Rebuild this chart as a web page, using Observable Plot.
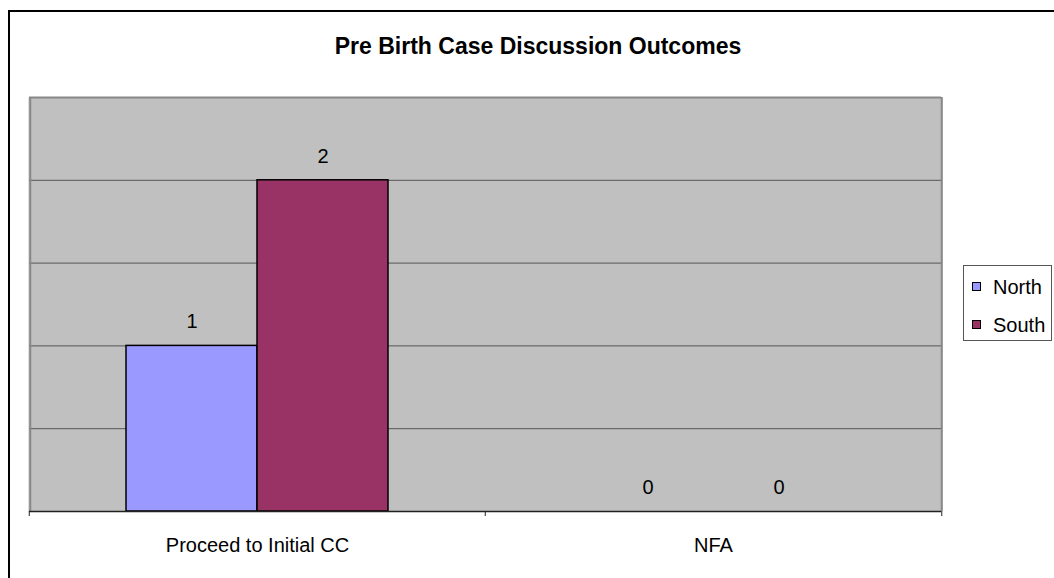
<!DOCTYPE html>
<html><head><meta charset="utf-8">
<script src="https://cdn.jsdelivr.net/npm/d3@7"></script>
<script src="https://cdn.jsdelivr.net/npm/@observablehq/plot@0.6"></script>
<style>
body{margin:0;background:#fff;font-family:"Liberation Sans",Arial,sans-serif;}
#wrap{position:relative;width:1054px;height:578px;overflow:hidden;background:#fff;}
#border{position:absolute;left:8px;top:10px;width:1100px;height:700px;border-left:2px solid #000;border-top:2px solid #000;box-sizing:border-box;}
#title{position:absolute;left:0;width:1076px;top:35px;line-height:23px;text-align:center;font-weight:bold;font-size:23px;color:#000;}
#chart{position:absolute;left:0;top:0;}
#legend{position:absolute;left:963px;top:265px;width:89px;height:76px;border:1px solid #555;box-sizing:border-box;background:#fff;font-size:20px;}
.item{position:absolute;left:0;height:24px;line-height:24px;}
.sw{position:absolute;left:8px;top:7px;width:9px;height:9px;border:1px solid #000;box-sizing:border-box;}
.lb{position:absolute;left:29px;top:0;white-space:nowrap;}
</style></head>
<body>
<div id="wrap">
  <div id="border"></div>
  <div id="chart"></div>
  <div id="title"></div>
  <div id="legend"></div>
</div>
<script>
const titleText = "Pre Birth Case Discussion Outcomes";
const categories = ["Proceed to Initial CC", "NFA"];
const series = ["North", "South"];
const northValues = [1, 0];
const southValues = [2, 0];
const seriesColors = ["#9999FF", "#993366"];
const gridValues = [0.5, 1, 1.5, 2];
const yMax = 2.5;

const data = categories.flatMap((c, i) => [
  {category: c, series: series[0], value: northValues[i]},
  {category: c, series: series[1], value: southValues[i]}
]);

const W = 1054, H = 578, mL = 28, mR = 113, mT = 97, mB = 67;
const bandW = (W - mL - mR) / categories.length;

const plot = Plot.plot({
  width: W, height: H,
  marginLeft: mL, marginRight: mR, marginTop: mT, marginBottom: mB,
  style: {fontFamily: "Liberation Sans, Arial, sans-serif", fontSize: "20px", background: "transparent", color: "#000"},
  fx: {domain: categories, padding: 0, label: null},
  x: {domain: series, paddingInner: 0, paddingOuter: 0.74, axis: null},
  y: {domain: [0, yMax], axis: null},
  color: {domain: series, range: seriesColors},
  marks: [
    Plot.frame({fill: "#C0C0C0", stroke: null, insetLeft: -1, insetRight: -1}),
    Plot.ruleY(gridValues, {stroke: "#555", strokeWidth: 1}),
    Plot.ruleY([yMax], {stroke: "#888", strokeWidth: 2}),
    Plot.ruleX([categories[0]], {x: null, fx: d => d, dx: -bandW / 2 + 1, stroke: "#888", strokeWidth: 2}),
    Plot.ruleX([categories[categories.length - 1]], {x: null, fx: d => d, dx: bandW / 2, stroke: "#888", strokeWidth: 2}),
    Plot.barY(data, {fx: "category", x: "series", y: "value", fill: "series", stroke: "#000", strokeWidth: 1.5}),
    Plot.ruleY([0], {stroke: "#222", strokeWidth: 1.5}),
    Plot.ruleX(categories, {x: null, fx: d => d, y1: d => 0, y2: d => 0, insetBottom: -5, dx: -bandW / 2, stroke: "#222", strokeWidth: 1}),
    Plot.ruleX([categories[categories.length - 1]], {x: null, fx: d => d, y1: d => 0, y2: d => 0, insetBottom: -5, dx: bandW / 2, stroke: "#222", strokeWidth: 1}),
    Plot.text(data, {fx: "category", x: "series", y: "value", text: d => String(d.value), dy: -24, fontSize: 20, fill: "#000"}),
    Plot.axisFx({anchor: "bottom", tickSize: 0, tickPadding: 26, fontSize: 20, label: null})
  ]
});
document.getElementById("chart").appendChild(plot);
document.getElementById("title").textContent = titleText;

const legend = document.getElementById("legend");
series.forEach((s, i) => {
  const item = document.createElement("div");
  item.className = "item";
  item.style.top = (9 + i * 38) + "px";
  const sw = document.createElement("div");
  sw.className = "sw";
  sw.style.background = seriesColors[i];
  const lb = document.createElement("div");
  lb.className = "lb";
  lb.textContent = s;
  item.appendChild(sw); item.appendChild(lb);
  legend.appendChild(item);
});
</script>
</body></html>
